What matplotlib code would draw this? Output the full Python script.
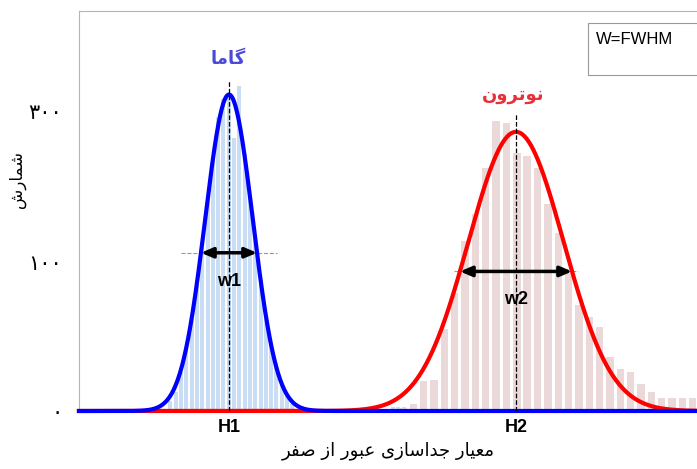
import matplotlib
matplotlib.use('Agg')
import matplotlib.pyplot as plt
import numpy as np
from matplotlib.patches import Rectangle

# histogram bins (criterion value) and counts
gamma_x = [91.5, 96.8, 102.1, 107.4, 112.7, 118.0, 123.3, 128.6, 133.9, 139.2,
           144.5, 149.8, 155.1, 160.4, 165.7, 171.0, 176.3, 181.6, 186.9, 192.2,
           197.5, 202.8, 208.1, 213.4, 314.1, 319.4, 324.7]
gamma_counts = [7, 13, 26, 42, 62, 87, 113, 142, 168, 197,
                209, 211, 183, 218, 172, 144, 115, 88, 64, 44,
                32, 19, 10, 5, 3, 3, 3]

neutron_x = [324.0, 334.4, 344.7, 355.1, 365.4, 375.8, 386.1, 396.5, 406.8, 417.2,
             427.5, 437.9, 448.2, 458.6, 468.9, 479.3, 489.6, 500.0, 510.3, 520.7,
             531.0, 541.4, 551.7, 562.1, 572.4, 582.8, 593.1, 603.5, 613.8]
neutron_counts = [2, 5, 20, 21, 55, 79, 114, 132, 163, 194,
                  193, 173, 171, 163, 139, 119, 93, 71, 63, 56,
                  36, 28, 26, 18, 13, 9, 9, 9, 9]

# gaussian fits: (center, sigma, amplitude)
gamma_fit = (150.0, 23.8, 212.0)
neutron_fit = (437.0, 47.6, 187.0)

ytick_pos = [0, 100, 201]
ytick_labels = ['۰', '۱۰۰', '۳۰۰']
xtick_labels = ['H1', 'H2']

gamma_label = 'گاما'
neutron_label = 'نوترون'
x_title = 'معیار جداسازی عبور از صفر'
y_title = 'شمارش'

# matplotlib has no arabic shaping, so pick presentation forms by hand
FORMS = {
    'ا': ('\uFE8D', '\uFE8E', None, None),
    'ب': ('\uFE8F', '\uFE90', '\uFE91', '\uFE92'),
    'ت': ('\uFE95', '\uFE96', '\uFE97', '\uFE98'),
    'ج': ('\uFE9D', '\uFE9E', '\uFE9F', '\uFEA0'),
    'د': ('\uFEA9', '\uFEAA', None, None),
    'ر': ('\uFEAD', '\uFEAE', None, None),
    'ز': ('\uFEAF', '\uFEB0', None, None),
    'س': ('\uFEB1', '\uFEB2', '\uFEB3', '\uFEB4'),
    'ش': ('\uFEB5', '\uFEB6', '\uFEB7', '\uFEB8'),
    'ص': ('\uFEB9', '\uFEBA', '\uFEBB', '\uFEBC'),
    'ع': ('\uFEC9', '\uFECA', '\uFECB', '\uFECC'),
    'ف': ('\uFED1', '\uFED2', '\uFED3', '\uFED4'),
    'م': ('\uFEE1', '\uFEE2', '\uFEE3', '\uFEE4'),
    'ن': ('\uFEE5', '\uFEE6', '\uFEE7', '\uFEE8'),
    'و': ('\uFEED', '\uFEEE', None, None),
    'ی': ('\uFBFC', '\uFBFD', '\uFBFE', '\uFBFF'),
    'گ': ('\uFB92', '\uFB93', '\uFB94', '\uFB95'),
}


def shape_fa(s):
    out = []
    for i, ch in enumerate(s):
        if ch not in FORMS:
            out.append(ch)
            continue
        iso, fin, ini, med = FORMS[ch]
        prev = s[i - 1] if i > 0 else ''
        nxt = s[i + 1] if i + 1 < len(s) else ''
        join_prev = prev in FORMS and FORMS[prev][2] is not None
        join_next = nxt in FORMS and ini is not None
        if join_prev and join_next:
            out.append(med)
        elif join_prev:
            out.append(fin)
        elif join_next:
            out.append(ini)
        else:
            out.append(iso)
    return ''.join(out)[::-1]


def gauss(x, fit):
    c, s, a = fit
    return a * np.exp(-(x - c) ** 2 / (2 * s ** 2))


plt.rcParams['font.family'] = ['DejaVu Sans']
latin = 'Liberation Sans'

fig = plt.figure(figsize=(6.97, 4.69), dpi=100)
ax = fig.add_axes([0.1133, 0.1237, 0.8867, 0.8529])
ax.set_xlim(0, 618)
ax.set_ylim(0, 268)

ax.bar(gamma_x, gamma_counts, width=4.0, color='#c9ddf4', zorder=1)
ax.bar(neutron_x, neutron_counts, width=7.4, color='#ebd8d8', zorder=1)

xs = np.linspace(0, 618, 1200)
ax.plot(xs, gauss(xs, neutron_fit), color='#ff0000', lw=3.0, zorder=3, clip_on=False)
ax.plot(xs, gauss(xs, gamma_fit), color='#0000ff', lw=3.0, zorder=4, clip_on=False)

# peak lines, half-maximum lines and FWHM arrows
for fit, top, ext, name in [(gamma_fit, 222, 1.7, 'w1'), (neutron_fit, 199, 1.1, 'w2')]:
    c, s, a = fit
    half = 2.3548 * s / 2
    ax.plot([c, c], [0, top], ls='--', color='black', lw=0.9, zorder=5)
    ax.plot([c - half * ext, c + half * ext], [a / 2, a / 2], ls='--', color='#999999', lw=0.8, zorder=2)
    ax.annotate('', xy=(c - half, a / 2), xytext=(c + half, a / 2),
                arrowprops=dict(arrowstyle='<|-|>,head_length=0.7,head_width=0.3',
                                lw=2.5, color='black', shrinkA=0, shrinkB=0), zorder=6)
    ax.text(c, a / 2 - 19, name, ha='center', va='center', fontsize=13,
            fontweight='bold', family=latin, zorder=6)

ax.text(gamma_fit[0] - 1, 236, shape_fa(gamma_label), ha='center', va='center',
        fontsize=13, fontweight='bold', color='#4a4ad6')
ax.text(neutron_fit[0] - 3, 212, shape_fa(neutron_label), ha='center', va='center',
        fontsize=13, fontweight='bold', color='#e8303a')

ax.set_xticks([gamma_fit[0], neutron_fit[0]], xtick_labels)
ax.tick_params(axis='x', length=0, pad=6, labelsize=13)
for t in ax.get_xticklabels():
    t.set_fontweight('bold')
    t.set_family(latin)
ax.set_yticks(ytick_pos, ytick_labels)
ax.tick_params(axis='y', length=0, pad=12, labelsize=15)

ax.set_xlabel(shape_fa(x_title), fontsize=13, labelpad=4)
fig.text(17 / 697, 1 - 180 / 469, shape_fa(y_title), rotation=90, fontsize=12,
         ha='center', va='center')

for side in ['top', 'left']:
    ax.spines[side].set_color('#b5b5b5')
    ax.spines[side].set_linewidth(0.8)
ax.spines['right'].set_visible(False)
ax.spines['bottom'].set_visible(False)

# legend-like note box at the top right
fig.add_artist(Rectangle((588 / 697, 1 - 75 / 469), 0.2, 52 / 469,
                         transform=fig.transFigure, fill=True, facecolor='white',
                         edgecolor='#999999', lw=0.8, zorder=10))
fig.text(596 / 697, 1 - 40 / 469, 'W=FWHM', fontsize=12, family=latin,
         va='center', ha='left', zorder=11)

fig.savefig('out.png', dpi=100)
